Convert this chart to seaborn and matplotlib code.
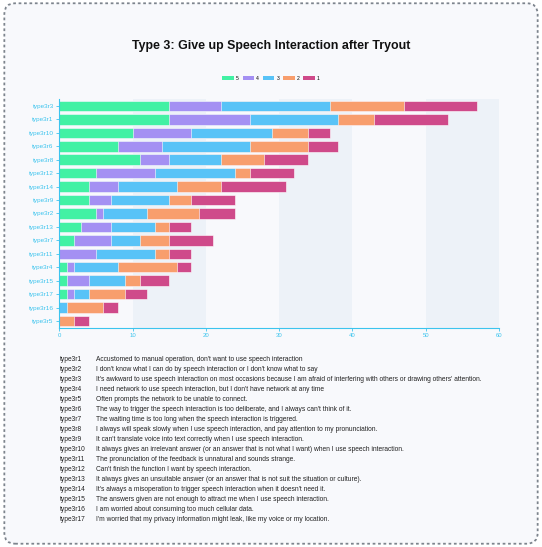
import numpy as np
import pandas as pd
import seaborn as sns
import matplotlib.pyplot as plt
from matplotlib.patches import FancyBboxPatch, Patch

types = ['type3r3', 'type3r1', 'type3r10', 'type3r6', 'type3r8', 'type3r12', 'type3r14',
         'type3r9', 'type3r2', 'type3r13', 'type3r7', 'type3r11', 'type3r4', 'type3r15',
         'type3r17', 'type3r16', 'type3r5']
s5 = [15, 15, 10, 8, 11, 5, 4, 4, 5, 3, 2, 0, 1, 1, 1, 0, 0]
s4 = [7, 11, 8, 6, 4, 8, 4, 3, 1, 4, 5, 5, 1, 3, 1, 0, 0]
s3 = [15, 12, 11, 12, 7, 11, 8, 8, 6, 6, 4, 8, 6, 5, 2, 1, 0]
s2 = [10, 5, 5, 8, 6, 2, 6, 3, 7, 2, 4, 2, 8, 2, 5, 5, 2]
s1 = [10, 10, 3, 4, 6, 6, 9, 6, 5, 3, 6, 3, 2, 4, 3, 2, 2]
levels = ['5', '4', '3', '2', '1']
colors = ['#42f1a4', '#a490f3', '#58c3f7', '#f89e6d', '#cf4a8a']

codes = ['type3r%d' % i for i in range(1, 18)]
descriptions = [
    "Accustomed to manual operation, don't want to use speech interaction",
    "I don't know what I can do by speech interaction or I don't know what to say",
    "It's awkward to use speech interaction on most occasions because I am afraid of interfering with others or drawing others' attention.",
    "I need network to use speech interaction, but I don't have network at any time",
    "Often prompts the network to be unable to connect.",
    "The way to trigger the speech interaction is too deliberate, and I always can't think of it.",
    "The waiting time is too long when the speech interaction is triggered.",
    "I always will speak slowly when I use speech interaction, and pay attention to my pronunciation.",
    "It can't translate voice into text correctly when I use speech interaction.",
    "It always gives an irrelevant answer (or an answer that is not what I want) when I use speech interaction.",
    "The pronunciation of the feedback is unnatural and sounds strange.",
    "Can't finish the function I want by speech interaction.",
    "It always gives an unsuitable answer (or an answer that is not suit the situation or culture).",
    "It's always a misoperation to trigger speech interaction when it doesn't need it.",
    "The answers given are not enough to attract me when I use speech interaction.",
    "I am worried about consuming too much cellular data.",
    "I'm worried that my privacy information might leak, like my voice or my location.",
]

df = pd.DataFrame({'type': types, '5': s5, '4': s4, '3': s3, '2': s2, '1': s1})
cum = df[levels].cumsum(axis=1)
cum['type'] = df['type']

bg = '#f8f9fc'
cyan = '#3cc4ee'
plt.rcParams['font.family'] = ['Liberation Sans', 'DejaVu Sans']

fig = plt.figure(figsize=(5.42, 5.47), dpi=100, facecolor='white')
fig.patches.append(FancyBboxPatch((0.008, 0.006), 0.984, 0.988, boxstyle='round,pad=0,rounding_size=0.02',
                                  transform=fig.transFigure, facecolor=bg, edgecolor='#7d848d',
                                  linestyle=(0, (1.5, 1.5)), linewidth=1.3, zorder=-10))

ax = fig.add_axes([0.1094, 0.401, 0.8113, 0.4175])
ax.set_facecolor('none')
for lo in [10, 30, 50]:
    ax.axvspan(lo, lo + 10, color='#edf2f8', zorder=0, lw=0)

# draw cumulative totals from the outermost level inwards so the bars stack
for i in range(len(levels) - 1, -1, -1):
    sns.barplot(data=cum, x=levels[i], y='type', order=types, color=colors[i], orient='h',
                width=0.78, saturation=1, edgecolor='white', linewidth=0.4, ax=ax, zorder=2)

ax.set_xlim(0, 60)
ax.set_ylim(16.5, -0.5)
ax.set_xticks(range(0, 61, 10))
ax.set_xlabel('')
ax.set_ylabel('')
ax.tick_params(axis='both', colors=cyan, labelsize=4.3, length=2, width=0.6, pad=2)
ax.tick_params(axis='y', labelsize=4.6, pad=2)
for sp in ['top', 'right']:
    ax.spines[sp].set_visible(False)
for sp in ['left', 'bottom']:
    ax.spines[sp].set_color(cyan)
    ax.spines[sp].set_linewidth(0.8)

fig.text(0.5, 0.915, 'Type 3: Give up Speech Interaction after Tryout', ha='center', va='center',
         fontsize=8.9, fontweight='bold', color='#111111')

handles = [Patch(facecolor=c, edgecolor='none', label=l) for c, l in zip(colors, levels)]
fig.legend(handles=handles, loc='center', bbox_to_anchor=(0.5, 0.857), ncol=5, frameon=False,
           fontsize=3.6, handlelength=2.3, handleheight=1.0, handletextpad=0.4, columnspacing=0.8)

y0 = 1 - 359.5 / 547
dy = 10.0 / 547
for k, (c, d) in enumerate(zip(codes, descriptions)):
    y = y0 - k * dy
    fig.text(60 / 542, y, c, ha='left', va='center', fontsize=4.8, color='#222222')
    fig.text(96.5 / 542, y, d, ha='left', va='center', fontsize=4.8, color='#222222')

fig.savefig('out.png', dpi=100, facecolor='white')
